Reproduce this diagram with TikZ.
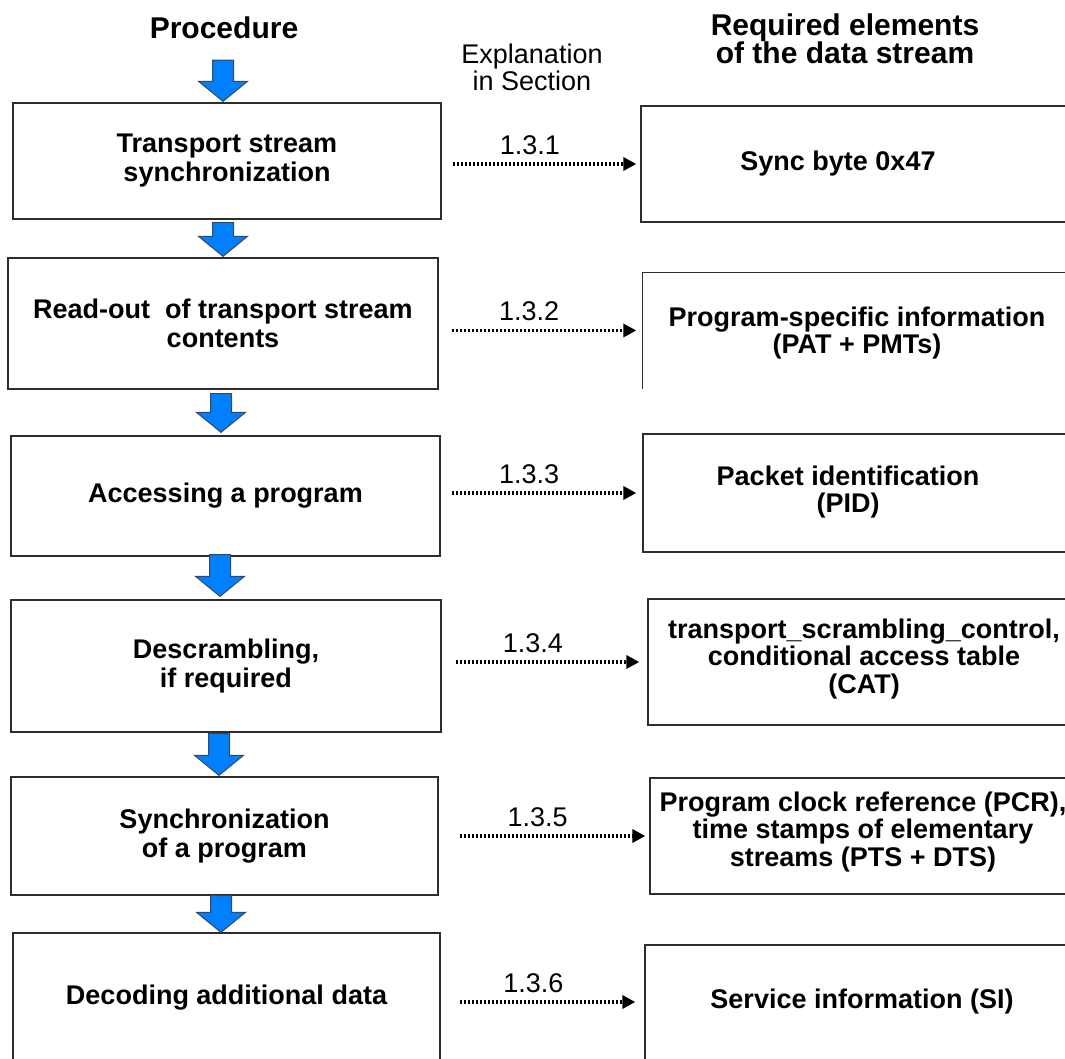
\documentclass[tikz,border=0pt]{standalone}
\usepackage{fontspec}
\setmainfont{Liberation Sans}
\usetikzlibrary{arrows.meta,calc}

\definecolor{flowblue}{RGB}{0,128,255}
\definecolor{edgegray}{RGB}{45,45,45}
\definecolor{arrowedge}{RGB}{60,70,90}

% block arrow: shaft starts at the height of #1, tip sits at #2
\newcommand\flowarrow[2]{%
  \path[blockarrow] let \p1=#1, \p2=#2 in
    (\x2-10.5pt,\y1) -- (\x2+10.5pt,\y1) -- (\x2+10.5pt,\y2+20pt)
    -- (\x2+24.5pt,\y2+20pt) -- (\x2,\y2) -- (\x2-24.5pt,\y2+20pt)
    -- (\x2-10.5pt,\y2+20pt) -- cycle;}

\tikzset{
  head/.style={font=\fontsize{30}{28}\bfseries\selectfont, inner sep=0pt, align=center},
  note/.style={font=\fontsize{27}{27}\selectfont, inner sep=0pt, align=center},
  boxtext/.style={font=\fontsize{27}{29}\bfseries\selectfont, inner sep=0pt, align=center},
  elemtext/.style={font=\fontsize{27}{27.5}\bfseries\selectfont, inner sep=0pt, align=center},
  boxline/.style={draw=edgegray, line width=1.3pt},
  lbox/.style={boxtext, boxline, minimum width=428pt},
  rbox/.style={boxline, minimum width=500pt, inner sep=0pt},
  blockarrow/.style={fill=flowblue, draw=arrowedge, line width=1pt, line join=miter},
  link/.style={line width=3.2pt, dash pattern=on 2.4pt off 1.6pt,
    -{Triangle[length=13pt,width=13pt]}},
  num/.style={note, pos=0.42, above=8pt},
}

\begin{document}
\begin{tikzpicture}[x=1pt, y=-1pt]
\useasboundingbox (0,0) rectangle (1065,1059);
\clip (0,0) rectangle (1065,1059);

% column headings
\node[head] (proc) at (224,28) {Procedure};
\node[note] (expl) at (532,67) {Explanation\\in Section};
\node[head] (reqd) at (845,39) {Required elements\\of the data stream};

% procedure steps
\node[lbox, minimum height=116pt] (p1) at (227,161) {Transport stream\\synchronization};
\node[lbox, minimum width=430pt, minimum height=131pt] (p2) at (223,323.5) {Read-out\ \ of transport stream\\contents};
\node[lbox, minimum width=429pt, minimum height=120pt] (p3) at (225.5,496) {Accessing a program};
\node[lbox, minimum width=430pt, minimum height=132pt] (p4) at (226,666) {Descrambling,\\if required};
\node[lbox, minimum width=427pt, minimum height=118pt] (p5) at (224.5,836) {Synchronization\\of a program};
\node[lbox, minimum width=427pt, minimum height=130pt] (p6) at (226.5,998) {Decoding additional data};

% required elements
\node[rbox, minimum height=116pt] (r1) at (891,164) {};
\node[rbox, draw=none, minimum height=115pt] (r2) at (893,330.5) {};
\draw[boxline] (r2.south west) -- (r2.north west) -- (r2.north east);
\node[rbox, minimum height=118pt] (r3) at (893,493) {};
\node[rbox, minimum height=126pt] (r4) at (898,662) {};
\node[rbox, minimum height=116pt] (r5) at (900,836) {};
\node[rbox, minimum height=130pt] (r6) at (895,1010) {};

\node[elemtext] (r1t) at (838,164) {Sync byte 0x47};
\node[elemtext] (r2t) at (857,333) {Program-specific information\\(PAT + PMTs)};
\node[elemtext] (r3t) at (848,492) {Packet identification\\(PID)};
\node[elemtext] (r4t) at (864,659) {transport\_scrambling\_control,\\conditional access table\\(CAT)};
\node[elemtext] (r5t) at (863,832) {Program clock reference (PCR),\\time stamps of elementary\\streams (PTS + DTS)};
\node[elemtext] (r6t) at (862,1002) {Service information (SI)};

% flow between steps
\flowarrow{([yshift=-21pt]proc.south)}{([xshift=-4pt,yshift=1pt]p1.north)}
\flowarrow{([yshift=-3pt]p1.south)}{([yshift=1pt]p2.north)}
\flowarrow{([yshift=-4pt]p2.south)}{([xshift=-4.5pt,yshift=3pt]p3.north)}
\flowarrow{([yshift=2pt]p3.south)}{([xshift=-6pt,yshift=3pt]p4.north)}
\flowarrow{([yshift=-1pt]p4.south)}{([xshift=-5.5pt,yshift=1pt]p5.north)}
\flowarrow{(p5.south)}{([xshift=-5.5pt]p6.north)}

% references to the explaining sections
\draw[link] ($(p1.east |- r1t)+(11,0)$) -- node[num]{1.3.1} ($(r1.west |- r1t)+(-4,0)$);
\draw[link] ($(p2.east |- r2.west)+(13,0)$) -- node[num]{1.3.2} ($(r2.west)+(-6,0)$);
\draw[link] ($(p3.east |- r3.west)+(11,0)$) -- node[num]{1.3.3} ($(r3.west)+(-6,0)$);
\draw[link] ($(p4.east |- r4.west)+(14,0)$) -- node[num]{1.3.4} ($(r4.west)+(-8,0)$);
\draw[link] ($(p5.east |- r5.west)+(21,0)$) -- node[num]{1.3.5} ($(r5.west)+(-4,0)$);
\draw[link] ($(p6.east |- r6t)+(19,0)$) -- node[num]{1.3.6} ($(r6.west |- r6t)+(-9,0)$);
\end{tikzpicture}
\end{document}
